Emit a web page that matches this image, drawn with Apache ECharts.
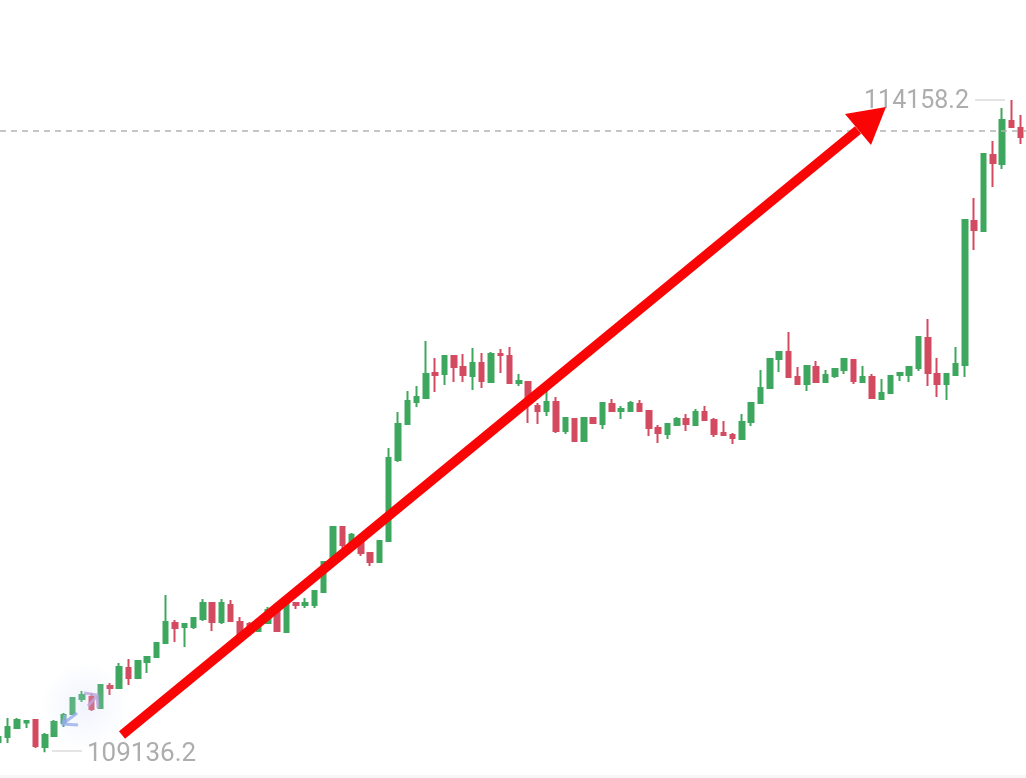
<!DOCTYPE html>
<html>
<head>
<meta charset="utf-8">
<title>BTC candles</title>
<script src="https://cdn.jsdelivr.net/npm/echarts@6/dist/echarts.min.js"></script>
<style>
  html, body { margin: 0; padding: 0; background: #fff; }
  #chart { width: 1026px; height: 778px; }
</style>
</head>
<body>
<div id="chart"></div>
<script>
// candle values
const opens = [109215,109253,109322,109365,109384,109176,109261,109361,109430,109546,109561,109476,109646,109630,109784,109707,109831,109869,109977,110131,110100,110100,110162,110285,110139,110270,110139,110123,110069,110131,110231,110062,110285,110270,110270,110370,110601,110870,110732,110755,110670,110601,110763,111386,111663,111833,111863,112056,112048,112187,112102,112033,112133,111987,112202,112187,111979,111987,111802,111763,111833,111609,111702,111532,111709,111663,111817,111763,111763,111817,111763,111632,111586,111656,111702,111656,111756,111694,111594,111578,111548,111679,111825,111940,112164,112218,112025,111971,112102,111987,112033,112079,112156,111987,112025,111856,111902,112040,112040,112094,112325,112048,111971,112040,112118,113226,113149,113734,113665,113996,113942];
const closes = [109253,109330,109384,109376,109184,109269,109369,109423,109553,109577,109469,109653,109630,109792,109707,109838,109869,109977,110139,110092,110123,110169,110285,110139,110285,110146,110038,110062,110131,110231,110069,110277,110270,110285,110377,110601,110870,110732,110810,110670,110601,110763,111401,111663,111840,111871,112048,112040,112187,112102,112040,112133,111994,112202,112194,111979,111994,111825,111763,111833,111609,111709,111532,111709,111671,111825,111763,111779,111825,111763,111632,111594,111663,111702,111663,111756,111694,111586,111578,111555,111679,111825,111940,112164,112218,112025,111971,112110,111987,112040,112087,112164,111994,112025,111863,111902,112033,112056,112102,112333,112056,111971,112048,112125,113234,113157,113742,113673,114004,113950,113873];
const lows = [109207,109207,109315,109322,109168,109136.2,109261,109330,109423,109523,109453,109476,109577,109630,109653,109707,109746,109861,109977,109985,109946,110085,110146,110069,110123,110139,110015,110031,110062,110131,110069,110054,110239,110246,110246,110362,110601,110701,110724,110647,110570,110601,110763,111371,111663,111794,111863,111910,111963,111987,111987,111925,111940,111987,112056,111971,111956,111671,111663,111725,111594,111586,111532,111532,111671,111625,111756,111702,111756,111756,111571,111517,111548,111648,111609,111656,111686,111563,111571,111509,111548,111648,111825,111940,112064,112025,111971,111917,111979,111987,112017,112048,111971,111987,111863,111856,111902,111994,111987,112071,111956,111871,111848,112040,112025,113003,113142,113488,113627,113942,113819];
const highs = [109261,109399,109399,109376,109384,109284,109384,109438,109561,109607,109592,109653,109669,109823,109854,109838,109869,109977,110347,110154,110131,110177,110316,110285,110316,110308,110177,110139,110131,110254,110231,110277,110285,110323,110385,110601,110870,110870,110824,110770,110670,110763,111478,111756,111917,111956,112302,112171,112187,112194,112202,112248,112210,112218,112241,112256,112048,111987,111825,111925,111871,111709,111702,111709,111709,111825,111856,111802,111840,111848,111771,111656,111663,111717,111740,111779,111802,111709,111686,111594,111740,111825,112079,112164,112218,112372,112102,112110,112148,112079,112094,112164,112156,112110,112048,112010,112033,112056,112102,112333,112472,112171,112056,112256,113234,113403,113742,113842,114096,114158.2,114042];
const categories = opens.map((_, i) => String(i));
const highLabel = 114158.2;
const lowLabel = 109136.2;
const lastPrice = 113919;

const upColor = '#3ea75f';
const downColor = '#d34b60';
const textColor = '#adadad';
const arrowColor = '#fa0505';

const candles = opens.map((o, i) => [o, closes[i], lows[i], highs[i]]);

const chart = echarts.init(document.getElementById('chart'));

const option = {
  animation: false,
  backgroundColor: '#fff',
  // first candle sits half off the left edge
  grid: { left: -6.25, width: 1031.6, top: 0, bottom: 0, outerBoundsMode: 'none' },
  xAxis: { type: 'category', data: categories, show: false },
  yAxis: { type: 'value', min: 108937.4, max: 114928, show: false, scale: true },
  series: [
    {
      type: 'candlestick',
      data: candles,
      barWidth: 5,
      itemStyle: {
        color: upColor,
        color0: downColor,
        borderColor: upColor,
        borderColor0: downColor,
        borderWidth: 2
      }
    }
  ],
  graphic: [
    // pale logo glow and its two little arrows
    {
      type: 'circle', z: 5, silent: true,
      shape: { cx: 84, cy: 706, r: 44 },
      style: {
        fill: {
          type: 'radial', x: 0.5, y: 0.5, r: 0.5,
          colorStops: [
            { offset: 0, color: 'rgba(205,218,245,0.30)' },
            { offset: 1, color: 'rgba(205,218,245,0)' }
          ]
        }
      }
    },
    {
      type: 'polyline', z: 6, silent: true,
      shape: { points: [[65, 715], [63, 724], [78, 725]] },
      style: { stroke: 'rgba(150,172,238,0.8)', lineWidth: 3, fill: 'none' }
    },
    {
      type: 'line', z: 6, silent: true,
      shape: { x1: 64, y1: 723, x2: 77, y2: 713 },
      style: { stroke: 'rgba(150,172,238,0.8)', lineWidth: 3 }
    },
    {
      type: 'polyline', z: 6, silent: true,
      shape: { points: [[84, 693], [97, 695], [98, 708]] },
      style: { stroke: 'rgba(190,165,225,0.8)', lineWidth: 3, fill: 'none' }
    },
    {
      type: 'line', z: 6, silent: true,
      shape: { x1: 97, y1: 696, x2: 88, y2: 706 },
      style: { stroke: 'rgba(190,165,225,0.8)', lineWidth: 3 }
    },
    // high and low labels with their leader lines
    {
      type: 'text', z: 7, silent: true,
      style: {
        text: String(highLabel), x: 969, y: 102, align: 'right', verticalAlign: 'middle',
        font: '400 25px Roboto, sans-serif', fill: textColor
      }
    },
    {
      type: 'line', z: 7, silent: true,
      shape: { x1: 975, y1: 100, x2: 1005, y2: 100 },
      style: { stroke: '#c9c9c9', lineWidth: 1 }
    },
    {
      type: 'text', z: 7, silent: true,
      style: {
        text: String(lowLabel), x: 87, y: 754, align: 'left', verticalAlign: 'middle',
        font: '400 26px Roboto, sans-serif', fill: textColor
      }
    },
    {
      type: 'line', z: 7, silent: true,
      shape: { x1: 52, y1: 751, x2: 82, y2: 751 },
      style: { stroke: '#c9c9c9', lineWidth: 1 }
    },
    // hand drawn red arrow on top
    {
      type: 'line', z: 10, silent: true,
      shape: { x1: 122, y1: 735, x2: 858, y2: 130 },
      style: { stroke: arrowColor, lineWidth: 9.5 }
    },
    {
      type: 'polygon', z: 10, silent: true,
      shape: { points: [[886, 107], [845, 114], [871, 145]] },
      style: { fill: arrowColor }
    },
    // bottom strip
    {
      type: 'rect', z: 4, silent: true,
      shape: { x: 0, y: 775, width: 1026, height: 3 },
      style: { fill: '#f7f7f7' }
    }
  ]
};

chart.setOption(option);

// last price line runs edge to edge, markLine stops at the outer candles
const lastY = chart.convertToPixel({ yAxisIndex: 0 }, lastPrice);
chart.setOption({
  graphic: option.graphic.concat([
    {
      type: 'line', z: 3, silent: true,
      shape: { x1: 0, y1: lastY, x2: 1026, y2: lastY },
      style: { stroke: '#b4b4b4', lineWidth: 1.5, lineDash: [6, 5] }
    }
  ])
});
</script>
</body>
</html>
